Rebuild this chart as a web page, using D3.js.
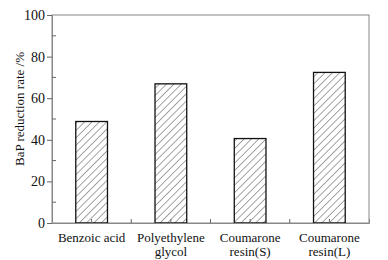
<!DOCTYPE html>
<html><head><meta charset="utf-8">
<script src="https://cdn.jsdelivr.net/npm/d3@7"></script>
<style>body{margin:0;background:#fff}svg{display:block}svg text{font-family:"Liberation Serif","DejaVu Serif",serif !important;fill:#111}</style>
</head><body><svg id="c" width="388" height="260"></svg>
<script>
const categories = [["Benzoic acid"], ["Polyethylene","glycol"], ["Coumarone","resin(S)"], ["Coumarone","resin(L)"]];
const values = [48.8, 66.9, 40.6, 72.4];
const yTicks = [0, 20, 40, 60, 80, 100];
const yLabel = "BaP reduction rate /%";

const FONT = "Liberation Serif, DejaVu Serif, serif";
const svg = d3.select("#c");
const m = {l:52, r:369, t:15, b:223};
const x = d3.scaleBand().domain(d3.range(categories.length)).range([m.l, m.r]).paddingInner(0.6).paddingOuter(0.3);
const y = d3.scaleLinear().domain([0,100]).range([m.b, m.t]);

const defs = svg.append("defs");
const pat = defs.append("pattern").attr("id","hatch").attr("patternUnits","userSpaceOnUse")
  .attr("width",5.2).attr("height",5.2).attr("patternTransform","rotate(45)");
pat.append("line").attr("x1",0).attr("y1",0).attr("x2",0).attr("y2",5.2).attr("stroke","#333").attr("stroke-width",0.9);

// frame
svg.append("rect").attr("x",m.l).attr("y",m.t).attr("width",m.r-m.l).attr("height",m.b-m.t)
  .attr("fill","none").attr("stroke","#888").attr("stroke-width",1);

// bars
svg.selectAll("rect.bar").data(values).enter().append("rect").attr("class","bar")
  .attr("x",(d,i)=>x(i)).attr("width",x.bandwidth())
  .attr("y",d=>y(d)).attr("height",d=>y(0)-y(d))
  .attr("fill","url(#hatch)").attr("stroke","#111").attr("stroke-width",1.3);

// y axis
const yAxis = d3.axisLeft(y).tickValues(yTicks).tickSize(5).tickPadding(2);
const gy = svg.append("g").attr("transform",`translate(${m.l},0)`).call(yAxis).attr("font-family",FONT).attr("font-size",14);
gy.select(".domain").attr("stroke","#888");
gy.selectAll(".tick line").attr("stroke","#666");
gy.selectAll(".tick text").attr("font-family",FONT).attr("font-size",14).attr("fill","#111");
// minor y ticks inward
const minor = d3.range(10, 100, 20);
svg.append("g").selectAll("line").data(minor).enter().append("line")
  .attr("x1",m.l).attr("x2",m.l+4).attr("y1",d=>y(d)).attr("y2",d=>y(d)).attr("stroke","#666");

// x axis
const gx = svg.append("g").attr("transform",`translate(0,${m.b})`)
  .call(d3.axisBottom(x).tickSize(-4).tickFormat(""));
gx.select(".domain").attr("stroke","#888");
gx.selectAll(".tick line").attr("stroke","#666");
const step = x.step();
svg.append("g").selectAll("line").data(d3.range(1, categories.length)).enter().append("line")
  .attr("x1",i=>x(i)-x.paddingInner()*step/2).attr("x2",i=>x(i)-x.paddingInner()*step/2)
  .attr("y1",m.b).attr("y2",m.b-4).attr("stroke","#666");

// x labels
categories.forEach((lines,i)=>{
  const t = svg.append("text").attr("text-anchor","middle").attr("font-family",FONT).attr("font-size",13)
    .attr("x", x(i)+x.bandwidth()/2).attr("y", 242);
  lines.forEach((s,k)=>t.append("tspan").attr("x", x(i)+x.bandwidth()/2).attr("dy", k?14:0).text(s));
});

// y label
svg.append("text").attr("transform",`translate(24,109) rotate(-90)`)
  .attr("text-anchor","middle").attr("font-family",FONT).attr("font-size",13).text(yLabel);
</script></body></html>
